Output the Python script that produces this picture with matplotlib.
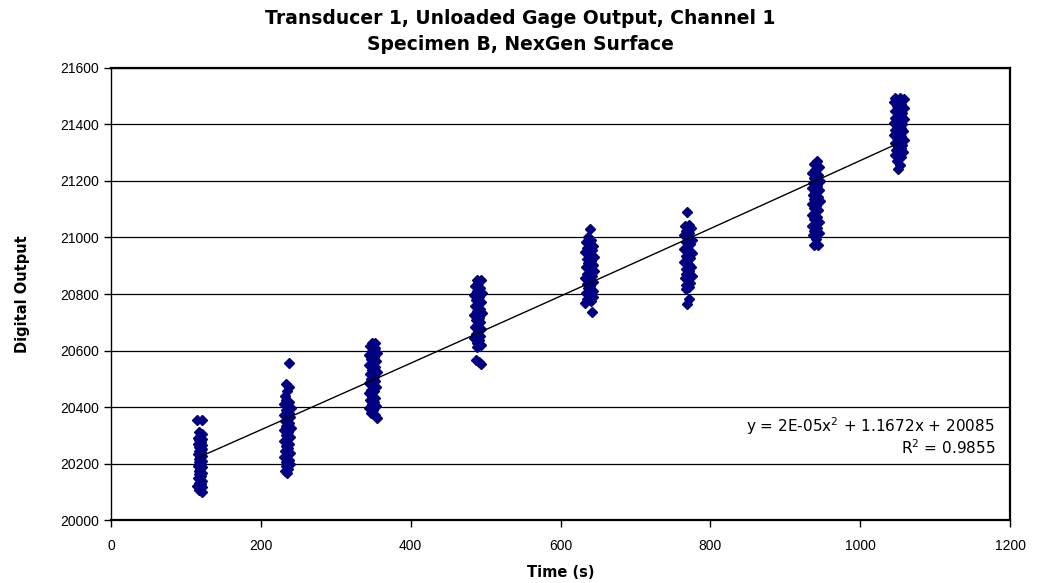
import numpy as np
import matplotlib
matplotlib.use("Agg")
import matplotlib.pyplot as plt

plt.rcParams['font.family'] = ['Liberation Sans', 'DejaVu Sans']

# leituras agrupadas (tempo s, saida digital)
grupo1 = [(115,20355),(122,20355),(117,20310),(121,20305),(119,20298),(116,20292),(122,20288),(118,20282),
          (120,20276),(116,20270),(121,20264),(118,20258),(122,20252),(117,20246),(120,20240),(116,20234),
          (121,20228),(119,20222),(117,20216),(122,20210),(118,20204),(120,20198),(116,20192),(121,20186),
          (119,20180),(117,20174),(122,20168),(118,20162),(120,20156),(116,20150),(119,20144),(121,20138),
          (117,20132),(120,20126),(115,20120),(121,20116),(118,20108),(122,20100)]
grupo2 = [(237,20555),(233,20480),(238,20470),(235,20455),(232,20440),(234,20425),(238,20418),(231,20410),
          (236,20402),(240,20395),(233,20388),(237,20380),(231,20372),(239,20365),(235,20358),(232,20350),
          (238,20342),(234,20334),(240,20326),(231,20318),(236,20310),(233,20302),(239,20294),(235,20286),
          (231,20278),(238,20270),(234,20262),(236,20254),(232,20246),(239,20238),(235,20230),(231,20222),
          (237,20214),(233,20206),(239,20198),(234,20190),(236,20182),(232,20175),(235,20166)]
grupo3 = [(349,20628),(353,20625),(346,20615),(352,20608),(348,20600),(355,20592),(345,20585),(351,20578),
          (347,20570),(354,20562),(349,20555),(345,20548),(352,20540),(348,20532),(355,20524),(346,20516),
          (351,20508),(347,20500),(353,20492),(345,20485),(350,20478),(354,20470),(347,20462),(351,20455),
          (345,20448),(349,20440),(353,20432),(346,20425),(351,20418),(348,20410),(354,20402),(345,20395),
          (350,20388),(347,20380),(352,20372),(355,20362)]
grupo4 = [(488,20850),(494,20848),(490,20838),(486,20828),(493,20820),(489,20812),(495,20804),(485,20796),
          (491,20788),(487,20780),(494,20772),(490,20764),(486,20756),(492,20748),(488,20740),(495,20732),
          (485,20724),(491,20716),(487,20708),(493,20700),(489,20692),(486,20684),(494,20676),(490,20668),
          (487,20660),(492,20652),(485,20644),(491,20636),(488,20628),(494,20620),(489,20612),(487,20568),
          (491,20560),(494,20553)]
grupo5 = [(640,21030),(637,21000),(641,20992),(634,20985),(639,20978),(644,20970),(636,20962),(642,20955),
          (633,20947),(638,20940),(645,20932),(635,20925),(641,20917),(637,20910),(643,20902),(634,20894),
          (639,20887),(645,20880),(636,20872),(642,20865),(633,20857),(638,20850),(644,20842),(635,20835),
          (640,20827),(637,20820),(643,20812),(634,20805),(639,20797),(644,20790),(636,20782),(641,20775),
          (633,20768),(642,20735)]
grupo6 = [(769,21092),(771,21045),(766,21040),(774,21032),(768,21024),(772,21016),(765,21008),(770,21000),
          (775,20992),(767,20984),(773,20976),(769,20968),(765,20960),(771,20952),(775,20944),(767,20936),
          (773,20928),(769,20920),(765,20912),(771,20904),(774,20896),(767,20888),(772,20880),(768,20872),
          (775,20864),(766,20856),(770,20848),(773,20840),(767,20832),(771,20824),(768,20816),(772,20782),
          (769,20766)]
grupo7 = [(943,21270),(938,21260),(945,21250),(940,21240),(936,21230),(944,21220),(939,21210),(946,21200),
          (937,21192),(942,21184),(935,21176),(945,21168),(940,21160),(937,21152),(944,21144),(939,21136),
          (946,21128),(936,21120),(941,21112),(938,21104),(944,21096),(940,21088),(935,21080),(943,21072),
          (938,21064),(945,21056),(940,21048),(936,21040),(942,21032),(939,21024),(945,21016),(937,21008),
          (941,20995),(939,20975),(944,20972)]
grupo8 = [(1047,21495),(1053,21495),(1058,21490),(1050,21485),(1045,21478),(1055,21472),(1049,21466),
          (1058,21460),(1052,21454),(1046,21448),(1056,21442),(1050,21436),(1054,21430),(1047,21424),
          (1058,21418),(1052,21412),(1045,21406),(1056,21400),(1049,21394),(1054,21388),(1047,21382),
          (1057,21376),(1051,21370),(1045,21364),(1055,21358),(1049,21352),(1058,21346),(1052,21340),
          (1046,21334),(1056,21328),(1050,21322),(1054,21316),(1048,21310),(1057,21304),(1051,21298),
          (1046,21292),(1055,21286),(1049,21270),(1053,21255),(1050,21242)]

# coeficientes da linha de tendencia (polinomio 2a ordem, como no rotulo)
coef = [2e-05, 1.1672, 20085]
r2 = 0.9855

grupos = [grupo1, grupo2, grupo3, grupo4, grupo5, grupo6, grupo7, grupo8]
tempo = np.array([p[0] for g in grupos for p in g])
saida = np.array([p[1] for g in grupos for p in g])

fig = plt.figure(figsize=(10.4, 5.83), dpi=100)
ax = fig.add_axes([0.1067, 0.108, 0.8645, 0.7754])

# grade horizontal
ax.set_axisbelow(True)
ax.grid(axis='y', color='k', linewidth=0.9)

ax.plot(tempo, saida, linestyle='none', marker='D', ms=5.0, color='#000080', mec='#000080')

# linha de tendencia
xt = np.linspace(tempo.min() + 3, tempo.max() - 8, 100)
ax.plot(xt, np.polyval(coef, xt), color='k', linewidth=1.0)

ax.set_xlim(0, 1200)
ax.set_ylim(20000, 21600)
ax.set_xticks(np.arange(0, 1201, 200))
ax.set_yticks(np.arange(20000, 21601, 200))
ax.tick_params(direction='out', length=5, width=1, labelsize=10)
ax.tick_params(axis='x', pad=9)
for s in ax.spines.values():
	s.set_linewidth(1.6)
ax.spines['left'].set_linewidth(1.0)

# rotulos dos eixos e titulo em fonte mais larga
larga = ['DejaVu Sans']
ax.set_xlabel('Time (s)', fontsize=10.5, fontweight='bold', family=larga, labelpad=8)
ax.set_ylabel('Digital Output', fontsize=10.5, fontweight='bold', family=larga, labelpad=22)
fig.text(0.5, 0.969, 'Transducer 1, Unloaded Gage Output, Channel 1', ha='center', va='center',
	fontsize=13.5, fontweight='bold', family=larga)
fig.text(0.5, 0.9245, 'Specimen B, NexGen Surface', ha='center', va='center',
	fontsize=13.5, fontweight='bold', family=larga)

# rotulo da equacao
ax.text(1180, 20333, 'y = 2E-05x$^{2}$ + 1.1672x + 20085', ha='right', va='center',
	fontsize=11, family=larga)
ax.text(1180, 20255, 'R$^{2}$ = %.4f' % r2, ha='right', va='center', fontsize=11, family=larga)

fig.savefig('out.png', dpi=100)
